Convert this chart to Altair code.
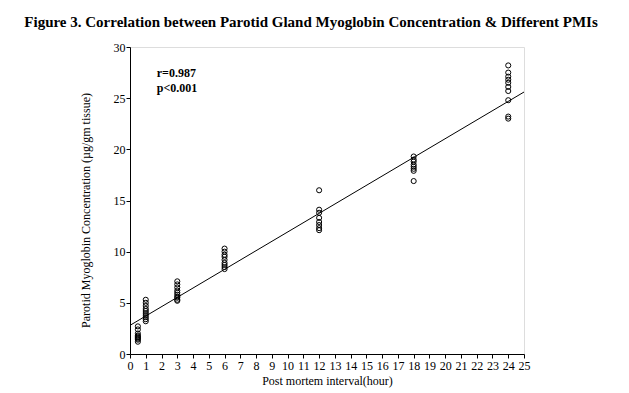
import altair as alt
import pandas as pd

# Post mortem interval (hours) for each cluster and measured concentrations
pmi_hours = [0.5, 1, 3, 6, 12, 18, 24]
concentrations = [
    [2.7, 2.4, 2.0, 1.8, 1.7, 1.6, 1.5, 1.4, 1.2],
    [5.3, 5.0, 4.7, 4.4, 4.2, 4.0, 3.8, 3.6, 3.4, 3.2],
    [7.1, 6.8, 6.5, 6.2, 6.0, 5.8, 5.6, 5.5, 5.3, 5.2],
    [10.3, 10.0, 9.7, 9.5, 9.2, 8.9, 8.7, 8.5, 8.3],
    [16.0, 14.1, 13.8, 13.3, 12.9, 12.6, 12.3, 12.1],
    [19.3, 19.0, 18.8, 18.5, 18.3, 18.1, 17.9, 16.9],
    [28.2, 27.5, 27.1, 26.8, 26.5, 26.1, 25.7, 24.8, 23.2, 23.0],
]
fit_x = [0, 25]
fit_y = [2.8, 25.6]
x_ticks = list(range(0, 26))
y_ticks = [0, 5, 10, 15, 20, 25, 30]
stats_text = ["r=0.987", "p<0.001"]
stats_x = [1.7, 1.7]
stats_y = [27.5, 26.0]

rows = []
for h, vals in zip(pmi_hours, concentrations):
    for v in vals:
        rows.append({"pmi": h, "conc": v})
points = pd.DataFrame(rows)
fit = pd.DataFrame({"pmi": fit_x, "conc": fit_y})
stats = pd.DataFrame({"pmi": stats_x, "conc": stats_y, "t": stats_text})

FONT = "Liberation Serif"

xs = alt.Scale(domain=[0, 25], nice=False, zero=False)
ys = alt.Scale(domain=[0, 30], nice=False)

xax = alt.Axis(values=x_ticks, title="Post mortem interval(hour)", grid=False,
               labelFont=FONT, labelFontSize=12, labelColor="black",
               titleFont=FONT, titleFontSize=12, titleFontWeight="normal", titleColor="black",
               domainColor="black", tickColor="black", tickSize=4, labelPadding=2,
               titlePadding=4, labelFlush=False, labelOverlap=False)
yax = alt.Axis(values=y_ticks, title="Parotid Myoglobin Concentration (µg/gm tissue)", grid=False,
               labelFont=FONT, labelFontSize=12, labelColor="black",
               titleFont=FONT, titleFontSize=12, titleFontWeight="normal", titleColor="black",
               domainColor="black", tickColor="black", tickSize=4, labelPadding=1,
               titleX=-45, titleY=163, titleAlign="center", titleBaseline="middle", titleAngle=-90,
               labelFlush=False, labelOverlap=False)

X = alt.X("pmi:Q", scale=xs, axis=xax)
Y = alt.Y("conc:Q", scale=ys, axis=yax)

pts = alt.Chart(points).mark_point(shape="circle", filled=False, color="black",
                                   size=26, strokeWidth=1, opacity=1).encode(x=X, y=Y)
line = alt.Chart(fit).mark_line(color="black", strokeWidth=1).encode(x=X, y=Y)
txt = alt.Chart(stats).mark_text(align="left", baseline="middle", font=FONT,
                                 fontSize=12, fontWeight="bold", color="black").encode(
    x=X, y=Y, text="t:N",
)

chart = alt.layer(pts, line, txt).properties(
    width=394, height=307,
    title=alt.TitleParams(
        "Figure 3. Correlation between Parotid Gland Myoglobin Concentration & Different PMIs",
        font=FONT, fontSize=15, fontWeight="bold", color="black", anchor="middle",
        dx=-16, offset=11),
    autosize=alt.AutoSizeParams(type="none"),
    padding={"left": 122, "top": 39, "right": 90, "bottom": 38},
).configure_view(stroke="#555555", strokeWidth=1.5).configure(background="white")

chart.save("out.html", embed_options={"renderer": "svg", "actions": False})
